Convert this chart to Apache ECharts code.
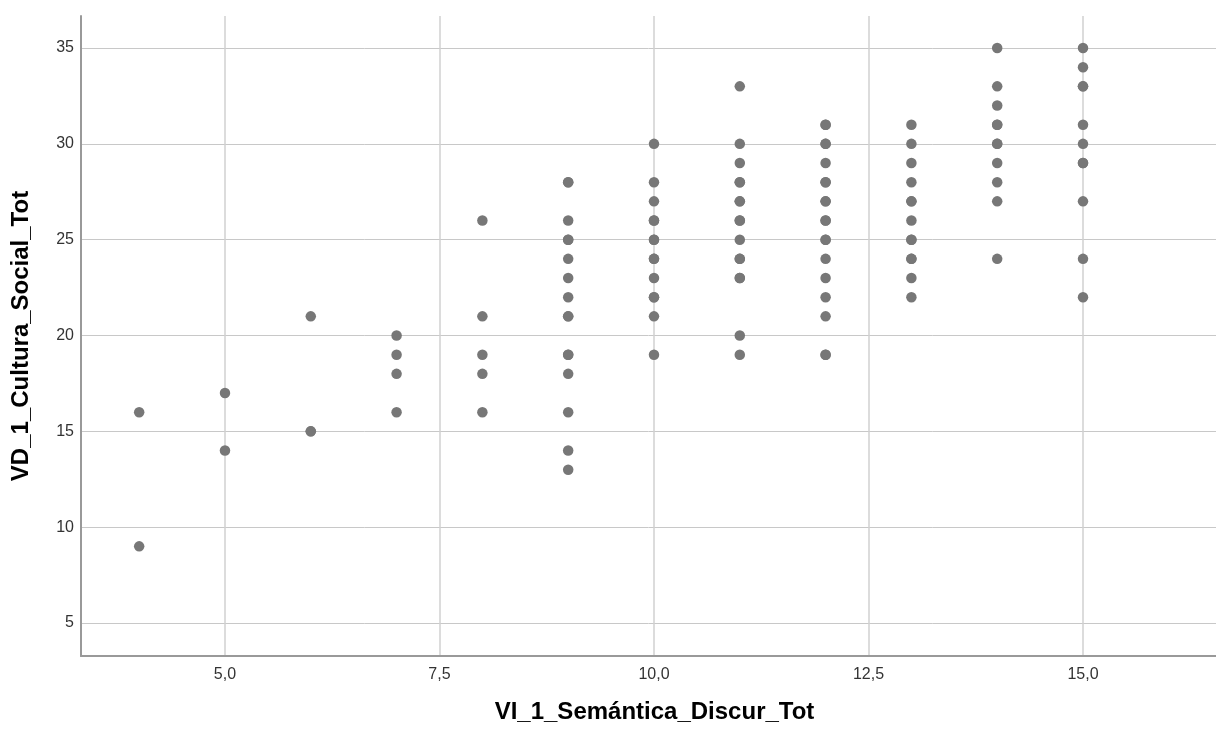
<!DOCTYPE html>
<html>
<head>
<meta charset="utf-8">
<script src="https://cdn.jsdelivr.net/npm/echarts@6/dist/echarts.min.js"></script>
<style>html,body{margin:0;padding:0;background:#fff}#c{width:1216px;height:729px}</style>
</head>
<body>
<div id="c"></div>
<script>
// Data: x value -> list of y values
var xValues = [4, 5, 6, 7, 8, 9, 10, 11, 12, 13, 14, 15];
var yAt4  = [16, 9];
var yAt5  = [17, 14];
var yAt6  = [21, 15, 15];
var yAt7  = [20, 19, 18, 16];
var yAt8  = [26, 21, 19, 18, 16];
var yAt9  = [28, 28, 26, 25, 25, 24, 23, 22, 21, 21, 19, 19, 18, 16, 14, 13];
var yAt10 = [30, 28, 27, 26, 26, 25, 25, 24, 24, 23, 22, 22, 21, 19];
var yAt11 = [33, 30, 29, 28, 28, 27, 27, 26, 26, 25, 24, 24, 23, 23, 20, 19];
var yAt12 = [31, 31, 30, 30, 29, 28, 28, 27, 27, 26, 26, 25, 25, 24, 23, 22, 21, 19, 19];
var yAt13 = [31, 30, 29, 28, 27, 27, 26, 25, 25, 24, 24, 23, 22];
var yAt14 = [35, 33, 32, 31, 31, 30, 30, 29, 28, 27, 24];
var yAt15 = [35, 34, 33, 33, 31, 30, 29, 29, 27, 24, 22];
var columns = [yAt4, yAt5, yAt6, yAt7, yAt8, yAt9, yAt10, yAt11, yAt12, yAt13, yAt14, yAt15];
var xTicks = [5, 7.5, 10, 12.5, 15];
var yTicks = [5, 10, 15, 20, 25, 30, 35];
var xTitle = 'VI_1_Semántica_Discur_Tot';
var yTitle = 'VD_1_Cultura_Social_Tot';

var points = [];
xValues.forEach(function (x, i) {
  columns[i].forEach(function (y) { points.push([x, y]); });
});

var chart = echarts.init(document.getElementById('c'), null, {renderer: 'canvas'});
var font = 'Arial, "Liberation Sans", sans-serif';
chart.setOption({
  animation: false,
  backgroundColor: '#ffffff',
  grid: {left: 81, right: 0, top: 16, bottom: 73, containLabel: false},
  xAxis: {
    type: 'value',
    min: 3.322, max: 16.55,
    name: xTitle,
    nameLocation: 'middle',
    nameGap: 44,
    nameTextStyle: {fontFamily: font, fontSize: 24, fontWeight: 'bold', color: '#000', padding: [0, 0, 0, 12]},
    axisLine: {show: true, onZero: false, lineStyle: {color: '#999999', width: 2}},
    axisTick: {show: false, customValues: xTicks},
    axisLabel: {customValues: xTicks, fontFamily: font, fontSize: 16, color: '#333', margin: 11,
      formatter: function (v) { return v.toFixed(1).replace('.', ','); }},
    splitLine: {show: true, lineStyle: {color: '#d0d0d0', width: 1.5}}
  },
  yAxis: {
    type: 'value',
    min: 3.28, max: 36.67,
    name: yTitle,
    nameLocation: 'middle',
    nameGap: 48,
    nameTextStyle: {fontFamily: font, fontSize: 24, fontWeight: 'bold', color: '#000'},
    axisLine: {show: true, onZero: false, lineStyle: {color: '#999999', width: 2}},
    axisTick: {show: false, customValues: yTicks},
    axisLabel: {customValues: yTicks, fontFamily: font, fontSize: 16, color: '#333', margin: 7},
    splitLine: {show: true, lineStyle: {color: '#c8c8c8', width: 1}}
  },
  series: [{
    type: 'scatter',
    data: points,
    symbol: 'circle',
    symbolSize: 10.5,
    itemStyle: {color: '#777777', opacity: 1}
  }]
});
</script>
</body>
</html>
